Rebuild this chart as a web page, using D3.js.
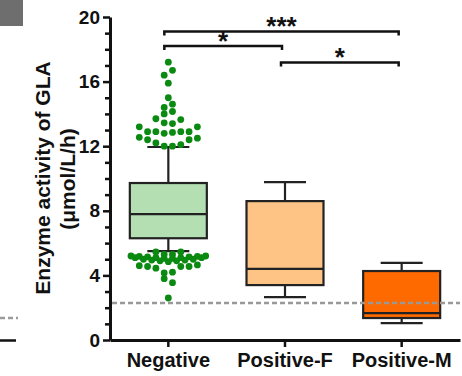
<!DOCTYPE html>
<html>
<head>
<meta charset="utf-8">
<script src="https://cdn.jsdelivr.net/npm/d3@7"></script>
<style>
  body { margin: 0; background: #fff; }
  text { font-family: "Liberation Sans", Arial, sans-serif; font-weight: bold; fill: #111; }
</style>
</head>
<body>
<div id="chart"></div>
<script>
// categories and box statistics (µmol/L/h)
const categories = ["Negative", "Positive-F", "Positive-M"];
const boxMin    = [5.5, 2.66, 1.05];
const boxQ1     = [6.3, 3.4, 1.36];
const boxMedian = [7.8, 4.4, 1.67];
const boxQ3     = [9.72, 8.6, 4.27];
const boxMax    = [11.95, 9.78, 4.77];
const boxColors = ["#b3dfb2", "#fdc486", "#ff6a00"];

// individual Negative values, grouped in the horizontal rows they sit in
const negativeRows = [
    [17.2],
    [16.4, 16.7],
    [15.9],
    [15.0],
    [14.4, 14.6],
    [14.0, 14.15],
    [13.7, 13.45, 13.4, 13.65],
    [13.2, 12.9, 12.9, 12.8, 12.85, 12.9, 12.9, 13.2],
    [12.55, 12.4, 12.2, 12.0, 12.0, 12.1, 12.4, 12.5],
    [5.45, 5.3, 5.3, 5.45],
    [5.2, 5.18, 5.15, 5.1, 5.05, 5.05, 5.1, 5.15, 5.18, 5.2],
    [5.1, 5.0, 4.95, 4.9, 4.85, 4.9, 4.95, 5.0, 5.1],
    [4.6, 4.55, 4.45, 4.15, 4.2, 4.55, 4.55, 4.65],
    [3.8, 3.55],
    [2.6]
];

const cutoff = 2.29;
const yTicks = [0, 4, 8, 12, 16, 20];
// [from, to, label, bracket height]
const comparisons = [
    [0, 2, "***", 19.1],
    [0, 1, "*", 18.2],
    [1, 2, "*", 17.18]
];

const width = 462, height = 376;
const svg = d3.select("#chart").append("svg")
    .attr("width", width)
    .attr("height", height);

const x = d3.scaleBand().domain(categories).range([110, 460]);
const y = d3.scaleLinear().domain([0, 20]).range([340, 17]);
const cx = i => x(categories[i]) + x.bandwidth() / 2;

// bits of the neighbouring panel
svg.append("rect").attr("x", 0).attr("y", 0).attr("width", 23).attr("height", 26).attr("fill", "#6e6e6e");
svg.append("line").attr("x1", 0).attr("x2", 18).attr("y1", 318).attr("y2", 318)
    .attr("stroke", "#9a9a9a").attr("stroke-width", 2.5).attr("stroke-dasharray", "5,3");
svg.append("line").attr("x1", 0).attr("x2", 16).attr("y1", 340.5).attr("y2", 340.5)
    .attr("stroke", "#111").attr("stroke-width", 2.5);

// y axis
const yAxis = svg.append("g")
    .attr("transform", "translate(110,0)")
    .call(d3.axisLeft(y).tickValues(d3.range(0, 21, 1)).tickSize(7).tickSizeOuter(0)
        .tickFormat(d => yTicks.includes(d) ? d : ""));
yAxis.select(".domain").attr("stroke", "#111").attr("stroke-width", 3);
yAxis.selectAll(".tick line").attr("stroke", "#111").attr("stroke-width", 2.5)
    .attr("x2", d => yTicks.includes(d) ? -7 : -5);
yAxis.selectAll(".tick text")
    .attr("x", -10)
    .style("font-size", "19px")
    .style("font-family", "Liberation Sans, Arial, sans-serif")
    .style("font-weight", "bold")
    .attr("fill", "#111");

// x axis
const xAxis = svg.append("g")
    .attr("transform", "translate(0,340)")
    .call(d3.axisBottom(x).tickSize(7).tickSizeOuter(0).tickPadding(6));
xAxis.select(".domain").attr("stroke", "#111").attr("stroke-width", 3);
xAxis.selectAll(".tick line").attr("stroke", "#111").attr("stroke-width", 2.5);
xAxis.selectAll(".tick text")
    .style("font-size", "20px")
    .style("font-family", "Liberation Sans, Arial, sans-serif")
    .style("font-weight", "bold")
    .attr("fill", "#111");

// y title
svg.append("text")
    .attr("transform", "translate(50,178) rotate(-90)")
    .attr("text-anchor", "middle")
    .style("font-size", "21px")
    .text("Enzyme activity of GLA");
svg.append("text")
    .attr("transform", "translate(75,179) rotate(-90)")
    .attr("text-anchor", "middle")
    .style("font-size", "21px")
    .text("(μmol/L/h)");

// boxes
const boxW = 77, capW = 42;
categories.forEach((c, i) => {
    const g = svg.append("g");
    const m = cx(i);
    g.append("line").attr("x1", m).attr("x2", m).attr("y1", y(boxMax[i])).attr("y2", y(boxQ3[i]))
        .attr("stroke", "#222").attr("stroke-width", 2.2);
    g.append("line").attr("x1", m).attr("x2", m).attr("y1", y(boxQ1[i])).attr("y2", y(boxMin[i]))
        .attr("stroke", "#222").attr("stroke-width", 2.2);
    [boxMax[i], boxMin[i]].forEach(v => {
        g.append("line").attr("x1", m - capW / 2).attr("x2", m + capW / 2).attr("y1", y(v)).attr("y2", y(v))
            .attr("stroke", "#222").attr("stroke-width", 2.2);
    });
    g.append("rect")
        .attr("x", m - boxW / 2).attr("width", boxW)
        .attr("y", y(boxQ3[i])).attr("height", y(boxQ1[i]) - y(boxQ3[i]))
        .attr("fill", boxColors[i]).attr("stroke", "#222").attr("stroke-width", 2.2);
    g.append("line").attr("x1", m - boxW / 2).attr("x2", m + boxW / 2)
        .attr("y1", y(boxMedian[i])).attr("y2", y(boxMedian[i]))
        .attr("stroke", "#222").attr("stroke-width", 2.2);
});

// Negative points, each row spread around the centre
const step = 8.3;
const points = [];
negativeRows.forEach(row => {
    row.forEach((v, j) => points.push({ v: v, off: (j - (row.length - 1) / 2) * step }));
});
svg.selectAll(".dot")
    .data(points)
    .enter()
    .append("circle")
    .attr("class", "dot")
    .attr("cx", d => cx(0) + d.off)
    .attr("cy", d => y(d.v))
    .attr("r", 3.4)
    .attr("fill", "#0b8a12");

// cut-off line
svg.append("line")
    .attr("x1", 112).attr("x2", 460)
    .attr("y1", y(cutoff)).attr("y2", y(cutoff))
    .attr("stroke", "#999").attr("stroke-width", 2.5).attr("stroke-dasharray", "5,3");

// significance brackets
comparisons.forEach(([a, b, label, level]) => {
    const x1 = cx(a) - 4, x2 = cx(b) - 3, yy = y(level);
    svg.append("path")
        .attr("d", `M${x1},${yy + 4}V${yy}H${x2}V${yy + 4}`)
        .attr("fill", "none").attr("stroke", "#111").attr("stroke-width", 2.5);
    svg.append("text")
        .attr("x", (x1 + x2) / 2)
        .attr("y", yy + 3.5)
        .attr("text-anchor", "middle")
        .style("font-size", "26px")
        .text(label);
});
</script>
</body>
</html>
